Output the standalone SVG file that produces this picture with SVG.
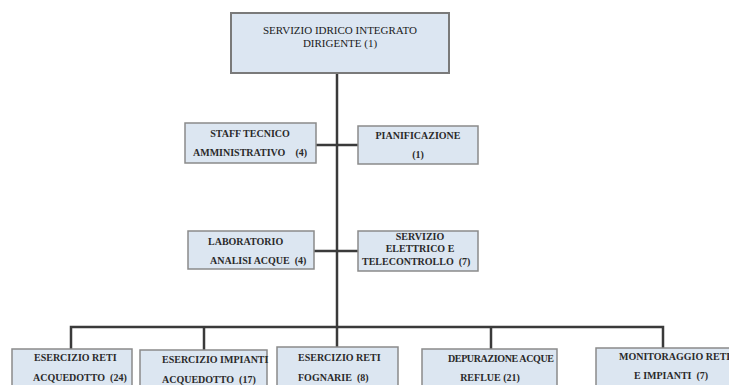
<svg xmlns="http://www.w3.org/2000/svg" width="729" height="385" viewBox="0 0 729 385">
<style>
.box{fill:#dce6f1;stroke:#8a8a8a;stroke-width:1.5}
.top{fill:#dce6f2;stroke:#7a7a7a;stroke-width:2}
.t{font-family:"Liberation Serif","Times New Roman",serif;font-size:10px;font-weight:bold;fill:#2a2a2a;white-space:pre}
.tt{font-family:"Liberation Serif","Times New Roman",serif;font-size:11px;fill:#1a1a1a}
.c{text-anchor:middle}
.ln{stroke:#3a3a3a;stroke-width:2.5;fill:none}
</style>
<rect width="729" height="385" fill="#ffffff"/>
<g id="connectors">
<line class="ln" x1="337" y1="73" x2="337" y2="327"/>
<line class="ln" x1="316" y1="145" x2="358" y2="145"/>
<line class="ln" x1="314" y1="251" x2="358" y2="251"/>
<polyline class="ln" points="71,349 71,327 663,327 663,348"/>
<line class="ln" x1="204" y1="327" x2="204" y2="350"/>
<line class="ln" x1="337" y1="327" x2="337" y2="347"/>
<line class="ln" x1="491" y1="327" x2="491" y2="349"/>
</g>
<g id="n-dirigente">
<rect class="top" x="231" y="13" width="218" height="60"/>
<text class="tt c" x="340" y="34">SERVIZIO IDRICO INTEGRATO</text>
<text class="tt c" x="340" y="47">DIRIGENTE (1)</text>
</g>
<g id="n-staff">
<rect class="box" x="185" y="123" width="131" height="40"/>
<text class="t c" x="250" y="137">STAFF TECNICO</text>
<text class="t" x="193" y="156" xml:space="preserve">AMMINISTRATIVO    (4)</text>
</g>
<g id="n-pianificazione">
<rect class="box" x="358" y="126" width="120" height="38"/>
<text class="t c" x="418" y="139">PIANIFICAZIONE</text>
<text class="t c" x="418" y="158">(1)</text>
</g>
<g id="n-laboratorio">
<rect class="box" x="188" y="231" width="126" height="38"/>
<text class="t" x="208" y="245">LABORATORIO</text>
<text class="t" x="210" y="264" xml:space="preserve">ANALISI ACQUE  (4)</text>
</g>
<g id="n-elettrico">
<rect class="box" x="358" y="231" width="120" height="40"/>
<text class="t c" x="420" y="240">SERVIZIO</text>
<text class="t c" x="420" y="252">ELETTRICO E</text>
<text class="t" x="362" y="265" xml:space="preserve">TELECONTROLLO  (7)</text>
</g>
<g id="n-reti-acquedotto">
<rect class="box" x="12" y="349" width="120" height="40"/>
<text class="t" x="34" y="361">ESERCIZIO RETI</text>
<text class="t" x="33" y="381" xml:space="preserve">ACQUEDOTTO  (24)</text>
</g>
<g id="n-impianti-acquedotto">
<rect class="box" x="140" y="350" width="127" height="40"/>
<text class="t" x="162" y="363">ESERCIZIO IMPIANTI</text>
<text class="t" x="162" y="383" xml:space="preserve">ACQUEDOTTO  (17)</text>
</g>
<g id="n-reti-fognarie">
<rect class="box" x="277" y="347" width="121" height="40"/>
<text class="t" x="298" y="361">ESERCIZIO RETI</text>
<text class="t" x="298" y="381" xml:space="preserve">FOGNARIE  (8)</text>
</g>
<g id="n-depurazione">
<rect class="box" x="422" y="349" width="135" height="40"/>
<text class="t" x="448" y="362" textLength="106">DEPURAZIONE ACQUE</text>
<text class="t c" x="490" y="381">REFLUE (21)</text>
</g>
<g id="n-monitoraggio">
<rect class="box" x="596" y="348" width="140" height="40"/>
<text class="t" x="619" y="360">MONITORAGGIO RETI</text>
<text class="t" x="634" y="379" xml:space="preserve">E IMPIANTI  (7)</text>
</g>
</svg>
